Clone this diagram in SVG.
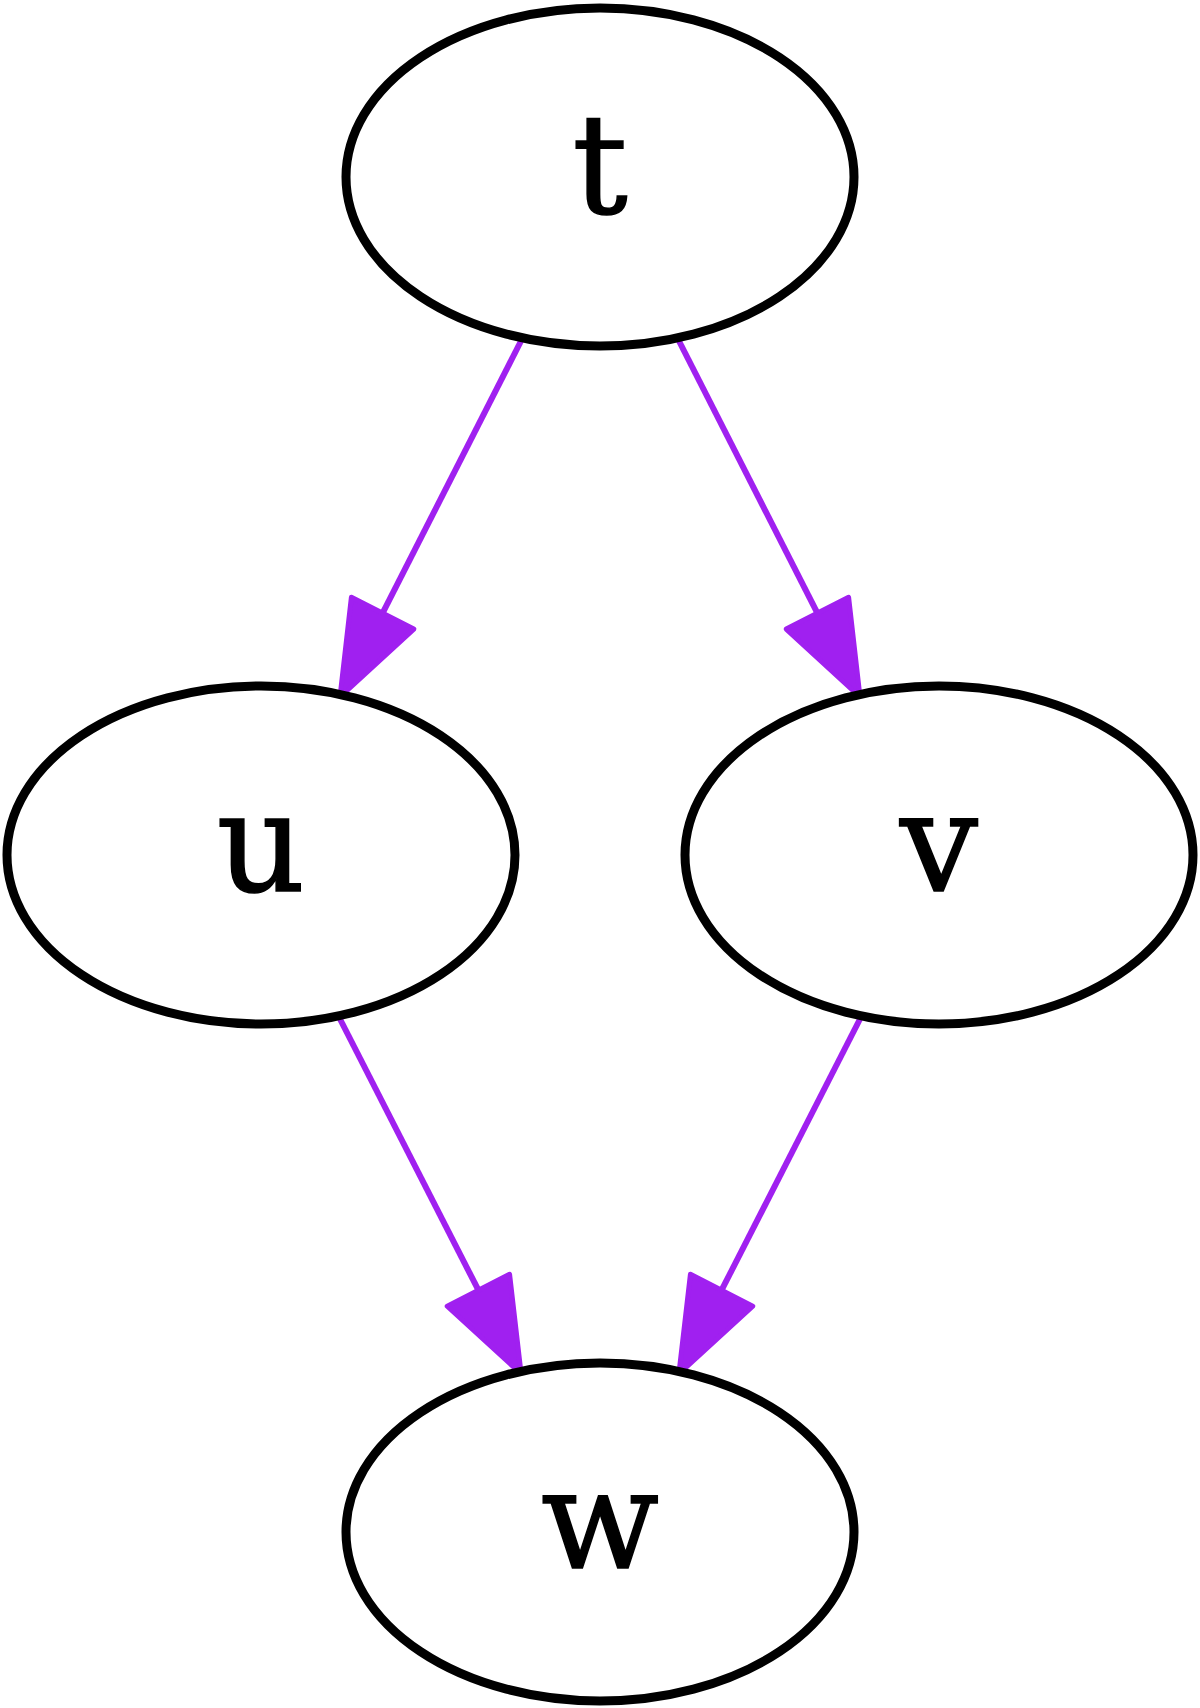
<svg xmlns="http://www.w3.org/2000/svg" width="1200" height="1708" viewBox="0 0 1200 1708">
  <style>
    .node ellipse { fill: #ffffff; stroke: #000000; stroke-width: 9; }
    .node text { font-family: "DejaVu Serif", "Liberation Serif", serif; font-size: 138px; text-anchor: middle; fill: #000000; stroke: #000000; stroke-width: 1.5; }
    .edge { stroke: #A020F0; stroke-width: 6; fill: none; }
  </style>
  <defs>
    <marker id="arrow" markerUnits="userSpaceOnUse" markerWidth="110" markerHeight="84" viewBox="-4 -42 104 84" refX="0" refY="0" orient="auto">
      <path d="M0,-35 L94,0 L0,35 Z" fill="#A020F0" stroke="#A020F0" stroke-width="5" stroke-linejoin="round"/>
    </marker>
  </defs>
  <rect x="0" y="0" width="1200" height="1708" fill="#ffffff"/>
  <g id="connectors">
    <line class="edge" x1="521" y1="341" x2="382.6" y2="613.2" marker-end="url(#arrow)"/>
    <line class="edge" x1="679" y1="341" x2="817.4" y2="613.2" marker-end="url(#arrow)"/>
    <line class="edge" x1="340" y1="1019" x2="478.4" y2="1290.2" marker-end="url(#arrow)"/>
    <line class="edge" x1="860" y1="1019" x2="721.6" y2="1290.2" marker-end="url(#arrow)"/>
  </g>
  <g id="node-t" class="node">
    <ellipse cx="600" cy="177" rx="254" ry="169"/>
    <text x="600" y="213">t</text>
  </g>
  <g id="node-u" class="node">
    <ellipse cx="261" cy="855" rx="254" ry="169"/>
    <text x="261" y="891">u</text>
  </g>
  <g id="node-v" class="node">
    <ellipse cx="939" cy="855" rx="254" ry="169"/>
    <text x="939" y="891">v</text>
  </g>
  <g id="node-w" class="node">
    <ellipse cx="600" cy="1532" rx="254" ry="169"/>
    <text x="600" y="1568">w</text>
  </g>
</svg>
